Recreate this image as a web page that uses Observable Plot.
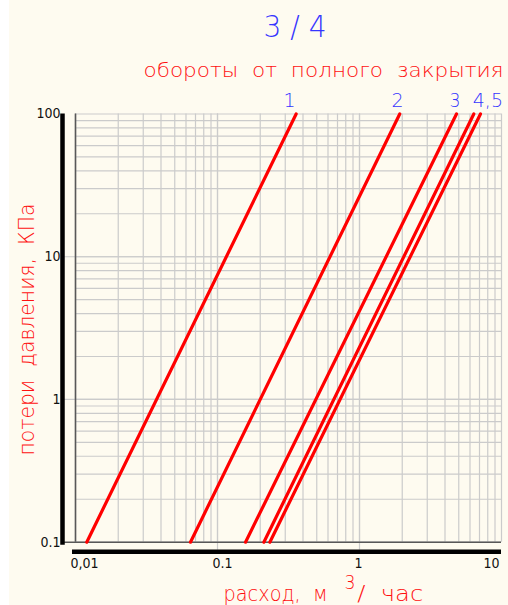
<!DOCTYPE html>
<html><head><meta charset="utf-8">
<script src="https://cdn.jsdelivr.net/npm/d3@7"></script>
<script src="https://cdn.jsdelivr.net/npm/@observablehq/plot@0.6"></script>
<style>
html,body{margin:0;padding:0;background:#fff;}
#chart{position:relative;width:508px;height:605px;overflow:hidden;}
</style></head><body><div id="chart"></div>
<script>
// ---- data ----
const series = ["1", "2", "3", "4", "5"];
const flowAtLow = [0.0120, 0.0645, 0.1575, 0.212, 0.2336];   // м³/час at 0.1 кПа
const flowAtHigh = [0.358, 1.92, 4.82, 6.38, 7.11];          // м³/час at 100 кПа
const lossLow = 0.1, lossHigh = 100;
const seriesLabels = ["1", "2", "3", "4,5"];
const xDecades = [0.01, 0.1, 1];
const yDecades = [0.1, 1, 10];
const multipliers = [1, 2, 3, 4, 5, 6, 7, 8, 9];
const xTickValues = [0.01, 0.1, 1, 10];
const xTickLabels = ["0,01", "0.1", "1", "10"];
const yTickValues = [0.1, 1, 10, 100];
const yTickLabels = ["0.1", "1", "10", "100"];
const titleText = "3 / 4";
const subtitleText = "обороты  от  полного  закрытия";
const yTitleText = "потери  давления,  КПа";
const xTitleA = "расход,  м", xTitleSup = "3", xTitleB = "/  час";

// ---- derived tables ----
const rows = series.flatMap((s, i) => [
  {s, q: flowAtLow[i], dp: lossLow},
  {s, q: flowAtHigh[i], dp: lossHigh}
]);
const xGrid = xDecades.flatMap(d => multipliers.map(m => d * m)).concat([10]);
const yGrid = yDecades.flatMap(d => multipliers.map(m => d * m)).concat([100]);
const xTicks = xTickValues.map((v, i) => ({v, label: xTickLabels[i]}));
const yTicks = yTickValues.map((v, i) => ({v, label: yTickLabels[i]}));
const labelRows = seriesLabels.map((t, i) => ({t, q: flowAtHigh[i]}));

const RED = "#ff1010", BLUE = "#3535ff", GRID = "#cbcbcb";
const FONT = "DejaVu Sans, Liberation Sans, sans-serif";
const TICKFONT = "DejaVu Sans Condensed, DejaVu Sans, sans-serif";

const lab = (i, dx, anchor) => Plot.text([labelRows[i]], {
  x: "q", y: () => lossHigh, text: "t", dx, dy: -7.5, textAnchor: anchor,
  lineAnchor: "bottom", fill: BLUE, fontSize: 19, fontFamily: FONT, fontWeight: 200
});

const chart = Plot.plot({
  width: 508, height: 605,
  marginLeft: 75, marginRight: 7, marginTop: 113.5, marginBottom: 63.3,
  x: {type: "log", domain: [0.01, 10], axis: null},
  y: {type: "log", domain: [0.1, 100], axis: null},
  style: {background: "linear-gradient(to right, #ffffff 9px, #fefbf0 9px)", overflow: "visible"},
  marks: [
    Plot.ruleX(xGrid, {stroke: GRID, strokeWidth: 1.2}),
    Plot.ruleY(yGrid, {stroke: GRID, strokeWidth: 1.2}),
    Plot.ruleY([1, 10], {stroke: GRID, strokeWidth: 1.2, insetLeft: -12}),
    Plot.ruleX([0.1, 1], {stroke: GRID, strokeWidth: 1.2, insetBottom: -8}),
    Plot.ruleX([0.01], {stroke: "#585858", strokeWidth: 1.6}),
    Plot.ruleY([0.1], {stroke: "#585858", strokeWidth: 1.6, insetLeft: -12}),
    Plot.ruleX([0.01], {stroke: "#000", strokeWidth: 4.5, dx: -13, insetBottom: -3}),
    Plot.ruleY([0.1], {stroke: "#000", strokeWidth: 4.5, dy: 9.6, insetLeft: -3}),
    Plot.line(rows, {x: "q", y: "dp", z: "s", stroke: "#ff0000", strokeWidth: 3.2}),
    lab(0, -6.7, "middle"),
    lab(1, -2.3, "middle"),
    lab(2, -1.5, "middle"),
    lab(3, -1, "start"),
    // tick labels
    Plot.text(xTicks.slice(0, 3), {x: "v", text: "label", frameAnchor: "bottom", dy: 21,
      lineAnchor: "middle", textAnchor: "start", dx: -5, fill: "#111", fontSize: 14, fontFamily: TICKFONT}),
    Plot.text(xTicks.slice(3), {x: "v", text: "label", frameAnchor: "bottom", dy: 21,
      lineAnchor: "middle", textAnchor: "end", dx: -2, fill: "#111", fontSize: 14, fontFamily: TICKFONT}),
    Plot.text(yTicks, {y: "v", text: "label", frameAnchor: "left", dx: -15,
      lineAnchor: "middle", textAnchor: "end", fill: "#111", fontSize: 14, fontFamily: TICKFONT}),
    // titles
    Plot.text([titleText], {frameAnchor: "top-left", dx: 219.5, dy: -77.5, textAnchor: "middle",
      lineAnchor: "bottom", fill: BLUE, fontSize: 31, fontFamily: FONT, fontWeight: 200}),
    Plot.text([subtitleText], {frameAnchor: "top-left", dx: 68, dy: -37.5, textAnchor: "start",
      lineAnchor: "bottom", fill: RED, fontSize: 20, fontFamily: FONT, fontWeight: 200}),
    Plot.text([xTitleA], {frameAnchor: "bottom-left", dx: 148, dy: 58.5, textAnchor: "start",
      lineAnchor: "bottom", fill: RED, fontSize: 21, fontFamily: FONT, fontWeight: 200}),
    Plot.text([xTitleSup], {frameAnchor: "bottom-left", dx: 269, dy: 47, textAnchor: "start",
      lineAnchor: "bottom", fill: RED, fontSize: 20, fontFamily: FONT, fontWeight: 200}),
    Plot.text([xTitleB], {frameAnchor: "bottom-left", dx: 281.7, dy: 58.5, textAnchor: "start",
      lineAnchor: "bottom", fill: RED, fontSize: 21, fontFamily: FONT, fontWeight: 200}),
    Plot.text([yTitleText], {frameAnchor: "left", dx: -41.5, dy: 1.4, rotate: -90, textAnchor: "middle",
      lineAnchor: "bottom", fill: RED, fontSize: 22, fontFamily: FONT, fontWeight: 200})
  ]
});
document.getElementById("chart").appendChild(chart);

// stretch the stroke-font texts to the widths they take in the drawing
const fit = new Map([[titleText, 63], [subtitleText, 360], [xTitleA, 104], [xTitleSup, 11], [xTitleB, 66], [yTitleText, 252]]);
d3.select(chart).selectAll("text").each(function () {
  const w = fit.get(this.textContent);
  if (w !== undefined) {
    d3.select(this).style("white-space", "pre").attr("textLength", w).attr("lengthAdjust", "spacingAndGlyphs");
  }
});
</script></body></html>
